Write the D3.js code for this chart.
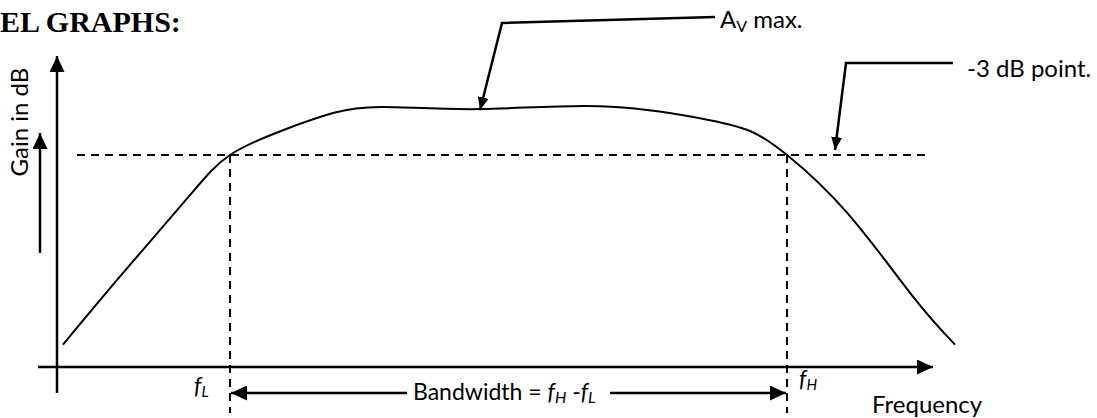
<!DOCTYPE html>
<html>
<head>
<meta charset="utf-8">
<script src="https://cdn.jsdelivr.net/npm/d3@7"></script>
<style>
  body { margin: 0; background: #fff; }
  text { font-family: Lato, "Noto Sans", sans-serif; fill: #000; }
</style>
</head>
<body>
<div id="chart"></div>
<script>
/**
 * Data (frequency in arbitrary units, gain in dB relative to max)
 */
const freq = [6, 65, 131, 173, 226, 276, 326, 423, 543, 643, 693, 730, 790, 856, 898];
const gain = [-14.85, -10.45, -5.65, -3.0, -1.45, -0.38, 0, -0.13, 0.05, -0.7, -1.5, -3.0, -6.6, -11.85, -14.85];
const cutoff = -3;
const fL = 173;
const fH = 730;

const width = 1097;
const height = 418;

const svg = d3.select("#chart")
  .append("svg")
  .attr("width", width)
  .attr("height", height);

/**
 * Scales
 */
const xScale = d3.scaleLinear()
  .domain([0, 1000])
  .range([57, 1057]);

const yScale = d3.scaleLinear()
  .domain([-16.25, 0])
  .range([367, 107]);

/**
 * Arrow markers
 */
const defs = svg.append("defs");
function addMarker(id, len, half) {
  defs.append("marker")
    .attr("id", id)
    .attr("markerUnits", "userSpaceOnUse")
    .attr("viewBox", "0 " + (-half) + " " + len + " " + (half * 2))
    .attr("refX", len)
    .attr("refY", 0)
    .attr("markerWidth", len)
    .attr("markerHeight", half * 2)
    .attr("orient", "auto")
    .append("path")
    .attr("d", "M0," + (-half) + "L" + len + ",0L0," + half + "Z")
    .attr("fill", "#000");
}
addMarker("big", 16, 7.5);
addMarker("small", 13, 5.5);

/**
 * Axes
 */
const x0 = xScale(0);
const yBase = yScale(-16.25);

svg.append("line")
  .attr("x1", x0).attr("y1", 393)
  .attr("x2", x0).attr("y2", 56)
  .attr("stroke", "#000").attr("stroke-width", 2.5)
  .attr("marker-end", "url(#big)");

svg.append("line")
  .attr("x1", 38).attr("y1", yBase)
  .attr("x2", 933).attr("y2", yBase)
  .attr("stroke", "#000").attr("stroke-width", 2.5)
  .attr("marker-end", "url(#big)");

// small arrow next to the y label
svg.append("line")
  .attr("x1", 40).attr("y1", 253)
  .attr("x2", 40).attr("y2", 133)
  .attr("stroke", "#000").attr("stroke-width", 2.5)
  .attr("marker-end", "url(#big)");

/**
 * Dashed guides
 */
svg.append("line")
  .attr("x1", 77).attr("y1", yScale(cutoff))
  .attr("x2", 927).attr("y2", yScale(cutoff))
  .attr("stroke", "#000").attr("stroke-width", 2)
  .attr("stroke-dasharray", "8,6");

[fL, fH].forEach(function(f) {
  svg.append("line")
    .attr("x1", xScale(f)).attr("y1", yScale(cutoff))
    .attr("x2", xScale(f)).attr("y2", 413)
    .attr("stroke", "#000").attr("stroke-width", 2)
    .attr("stroke-dasharray", "8,6");
});

/**
 * Response curve
 */
const line = d3.line()
  .x(function(d, i) { return xScale(freq[i]); })
  .y(function(d) { return yScale(d); })
  .curve(d3.curveNatural);

svg.append("path")
  .datum(gain)
  .attr("d", line)
  .attr("fill", "none")
  .attr("stroke", "#000")
  .attr("stroke-width", 2);

/**
 * Callouts
 */
const avX = xScale(423);
svg.append("polyline")
  .attr("points", [[715, 17], [502, 23], [avX, yScale(-0.2)]].join(" "))
  .attr("fill", "none")
  .attr("stroke", "#000").attr("stroke-width", 2.5)
  .attr("marker-end", "url(#small)");

svg.append("polyline")
  .attr("points", [[953, 63], [846, 63], [835, yScale(cutoff) - 5]].join(" "))
  .attr("fill", "none")
  .attr("stroke", "#000").attr("stroke-width", 2.5)
  .attr("marker-end", "url(#small)");

/**
 * Bandwidth arrows
 */
svg.append("line")
  .attr("x1", 407).attr("y1", 393)
  .attr("x2", xScale(fL) + 1).attr("y2", 393)
  .attr("stroke", "#000").attr("stroke-width", 2.5)
  .attr("marker-end", "url(#big)");

svg.append("line")
  .attr("x1", 610).attr("y1", 393)
  .attr("x2", xScale(fH) - 1).attr("y2", 393)
  .attr("stroke", "#000").attr("stroke-width", 2.5)
  .attr("marker-end", "url(#big)");

/**
 * Texts
 */
svg.append("text")
  .attr("x", 0).attr("y", 32)
  .style("font-family", "'Liberation Serif', 'Times New Roman', serif")
  .style("font-weight", "bold")
  .style("font-size", "30px")
  .text("EL GRAPHS:");

svg.append("text")
  .attr("transform", "translate(28,122) rotate(-90)")
  .attr("text-anchor", "middle")
  .style("font-size", "24px")
  .text("Gain in dB");

const av = svg.append("text")
  .attr("x", 720).attr("y", 28)
  .style("font-size", "24px");
av.append("tspan").text("A");
av.append("tspan").attr("dy", 4).style("font-size", "16px").text("V");
av.append("tspan").attr("dy", -4).text(" max.");

svg.append("text")
  .attr("x", 967).attr("y", 77)
  .style("font-size", "24px")
  .text("-3 dB point.");

svg.append("text")
  .attr("x", 872).attr("y", 413)
  .style("font-size", "24px")
  .text("Frequency");

function subLabel(x, y, sub) {
  const t = svg.append("text")
    .attr("x", x).attr("y", y)
    .style("font-size", "23px")
    .style("font-style", "italic");
  t.append("tspan").text("f");
  t.append("tspan").attr("dy", 3).style("font-size", "15px").text(sub);
}
subLabel(194, 394, "L");
subLabel(799, 387, "H");

const bw = svg.append("text")
  .attr("x", 413).attr("y", 400)
  .style("font-size", "23px");
bw.append("tspan").text("Bandwidth = ");
bw.append("tspan").style("font-style", "italic").text("f");
bw.append("tspan").attr("dy", 3).style("font-style", "italic").style("font-size", "16px").text("H");
bw.append("tspan").attr("dy", -3).text(" -");
bw.append("tspan").style("font-style", "italic").text("f");
bw.append("tspan").attr("dy", 3).style("font-style", "italic").style("font-size", "16px").text("L");
</script>
</body>
</html>
